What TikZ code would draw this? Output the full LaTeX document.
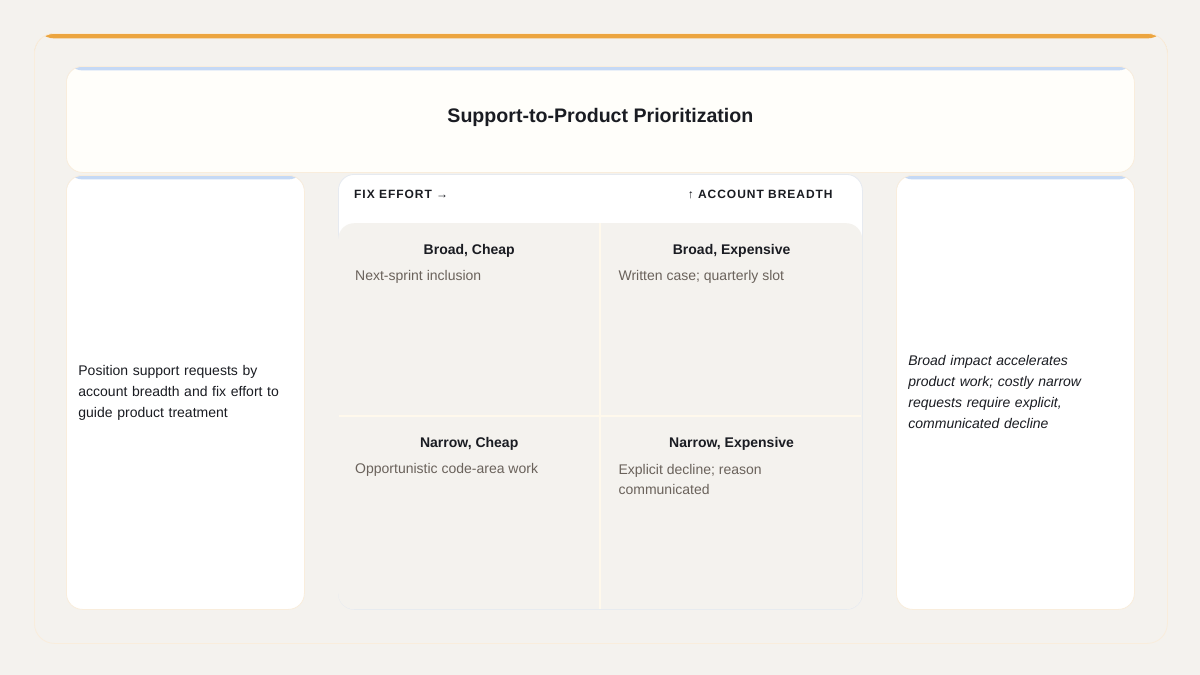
\documentclass[tikz,border=0pt]{standalone}
\usepackage{fontspec}
\setmainfont{Liberation Sans}
\usetikzlibrary{positioning}

\definecolor{paper}{HTML}{F4F2EE}
\definecolor{edge}{HTML}{F9EDDC}
\definecolor{orangebar}{HTML}{ECA53F}
\definecolor{bluestrip}{HTML}{C5D9F5}
\definecolor{headfill}{HTML}{FFFEFA}
\definecolor{paneledge}{HTML}{E6EAF0}
\definecolor{divider}{HTML}{FFF9EC}
\definecolor{ink}{HTML}{1A1C22}
\definecolor{muted}{HTML}{6A625B}

\tikzstyle{frame} = [draw=edge, fill=paper, rounded corners=20pt, inner sep=0pt,
    anchor=north west, line width=0.8pt,
    path picture={\fill[orangebar] (path picture bounding box.north west)
        rectangle ([yshift=-5pt]path picture bounding box.north east);}]
\tikzstyle{card} = [draw=edge, fill=white, rounded corners=16pt, inner sep=0pt,
    anchor=north west, line width=0.8pt,
    path picture={\fill[bluestrip] (path picture bounding box.north west)
        rectangle ([yshift=-4pt]path picture bounding box.north east);}]
\tikzstyle{panel} = [draw=paneledge, fill=white, rounded corners=16pt, inner sep=0pt,
    anchor=north west, line width=0.8pt]
\tikzstyle{cell} = [inner sep=0pt, minimum width=262pt, minimum height=193pt, anchor=north west]
\tikzstyle{note} = [text=ink, align=left, inner sep=0pt, font=\fontsize{14}{21}\selectfont]
\tikzstyle{axis} = [text=ink, inner sep=0pt,
    font=\fontsize{12}{14}\selectfont\bfseries\addfontfeature{LetterSpace=8}]
\tikzstyle{qtitle} = [text=ink, inner sep=0pt, anchor=base, font=\fontsize{14}{17}\selectfont\bfseries]
\tikzstyle{qtext} = [text=muted, inner sep=0pt, anchor=north west, align=left,
    font=\fontsize{14}{20}\selectfont]

\begin{document}
\begin{tikzpicture}[x=1pt, y=-1pt]
    \fill[paper] (0,0) rectangle (1200,675);
    \node [frame, minimum width=1133pt, minimum height=610pt] (frame) at (34,33) {};

    % header
    \node [card, fill=headfill, minimum width=1068pt, minimum height=106pt] (head) at (66,66) {};
    \node [text=ink, font=\fontsize{19.6}{22}\selectfont\bfseries] (title)
        at ([yshift=2pt]head.center) {Support-to-Product Prioritization};

    % side cards
    \node [card, minimum width=238pt, minimum height=434pt] (left) at (66,175) {};
    \node [card, minimum width=238pt, minimum height=434pt] (right) at (896,175) {};
    \node [note, text width=214pt] (lefttext) at (left.center)
        {Position support requests by\\account breadth and fix effort to\\guide product treatment};
    \node [note, text width=214pt, font=\fontsize{14}{21}\selectfont\itshape] (righttext) at (right.center)
        {Broad impact accelerates\\product work; costly narrow\\requests require explicit,\\communicated decline};

    % quadrant panel
    \node [panel, minimum width=524pt, minimum height=435pt] (panel) at (338,174) {};
    \node [axis, anchor=west] (effort) at ([xshift=16pt, yshift=-20pt]panel.north west) {FIX EFFORT →};
    \node [axis, anchor=east] (breadth) at ([xshift=-30pt, yshift=-20pt]panel.north east) {↑ ACCOUNT BREADTH};
    \node [fill=paper, rounded corners=16pt, inner sep=0pt, anchor=north west,
        minimum width=524pt, minimum height=386pt] (grid) at (338,223) {};
    \draw [divider, line width=2.5pt] (grid.north) -- (grid.south);
    \draw [divider, line width=2.5pt] ([xshift=1pt]grid.west) -- ([xshift=-1pt]grid.east);

    \node [cell] (bc) at (338,223) {};
    \node [cell, right=0pt of bc] (be) {};
    \node [cell, below=0pt of bc] (nc) {};
    \node [cell, right=0pt of nc] (ne) {};

    \node [qtitle] at ([yshift=-31pt]bc.north) {Broad, Cheap};
    \node [qtext] at ([xshift=17pt, yshift=-47pt]bc.north west) {Next-sprint inclusion};
    \node [qtitle] at ([yshift=-31pt]be.north) {Broad, Expensive};
    \node [qtext] at ([xshift=18pt, yshift=-47pt]be.north west) {Written case; quarterly slot};
    \node [qtitle] at ([yshift=-31pt]nc.north) {Narrow, Cheap};
    \node [qtext] at ([xshift=17pt, yshift=-47pt]nc.north west) {Opportunistic code-area work};
    \node [qtitle] at ([yshift=-31pt]ne.north) {Narrow, Expensive};
    \node [qtext] at ([xshift=18pt, yshift=-48pt]ne.north west) {Explicit decline; reason\\communicated};
\end{tikzpicture}
\end{document}
